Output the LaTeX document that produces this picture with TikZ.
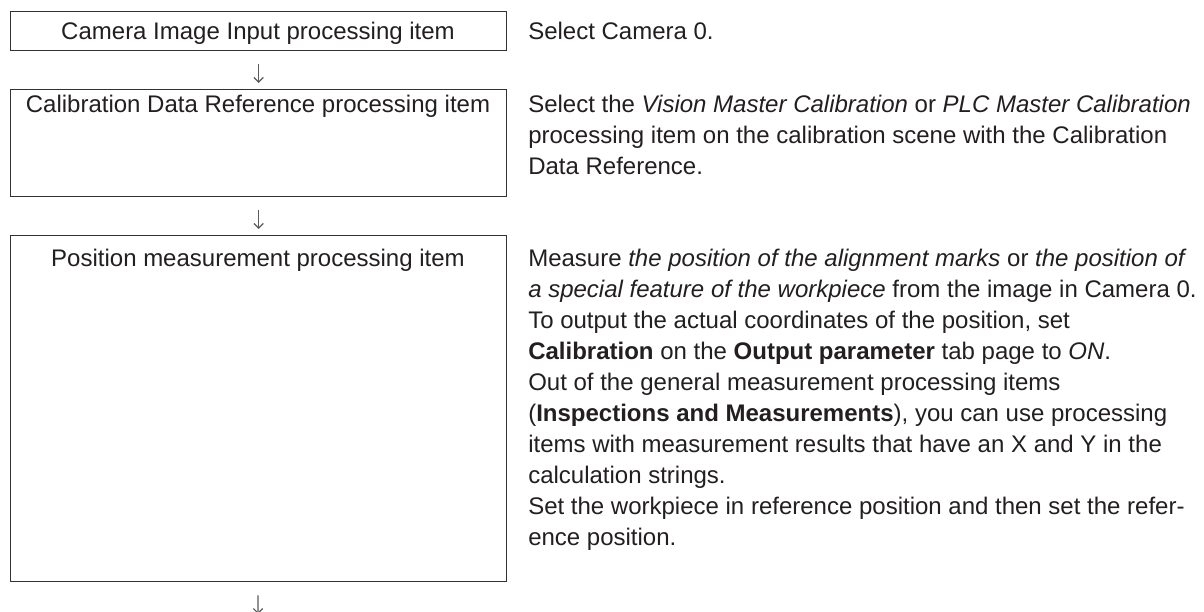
\documentclass[tikz,border=0pt]{standalone}
\usepackage{fontspec}
\setmainfont{Liberation Sans}
\usetikzlibrary{arrows.meta,positioning}
\usepackage{xcolor}
\definecolor{framegray}{RGB}{50,50,50}
\definecolor{textblack}{RGB}{35,31,32}
\definecolor{arrowgray}{RGB}{90,90,90}

\tikzset{
  procbox/.style={draw=framegray, line width=1pt, minimum width=372pt, inner sep=0pt, anchor=north west},
  boxlabel/.style={anchor=base, inner sep=0pt, text=textblack},
  notetext/.style={anchor=north west, inner sep=0pt, align=left, text=textblack},
  flowarrow/.style={-{Straight Barb[length=3.5pt,width=7pt]}, draw=arrowgray, line width=0.9pt, shorten <=9.75pt, shorten >=4.5pt}
}

\begin{document}
\begin{tikzpicture}[x=0.75pt, y=-0.75pt, font=\fontsize{18pt}{23.25pt}\selectfont]
\fill[white] (0,0) rectangle (1204,611);
\useasboundingbox (0,0) rectangle (1204,611);

\node[procbox, minimum height=29.25pt] (cam) at (10,11) {};
\node[boxlabel] (camlabel) at (258,39) {Camera Image Input processing item};
\node[notetext] (camnote) at (528,17.3) {\strut Select Camera 0.};

\node[procbox, minimum height=80.25pt] (calib) at (10,89) {};
\node[boxlabel] (caliblabel) at (258,112) {Calibration Data Reference processing item};
\node[notetext] (calibnote) at (528,90.3) {\strut Select the \textit{Vision Master Calibration} or \textit{PLC Master Calibration}\\
processing item on the calibration scene with the Calibration\\
Data Reference.};

\node[procbox, minimum height=259.5pt] (posmeas) at (10,235) {};
\node[boxlabel] (posmeaslabel) at (258,266) {Position measurement processing item};
\node[notetext] (posmeasnote) at (528,244.3) {\strut Measure \textit{the position of the alignment marks} or \textit{the position of}\\
\textit{a special feature of the workpiece} from the image in Camera 0.\\
To output the actual coordinates of the position, set\\
\textbf{Calibration} on the \textbf{Output parameter} tab page to \textit{ON}.\\
Out of the general measurement processing items\\
(\textbf{Inspections and Measurements}), you can use processing\\
items with measurement results that have an X and Y in the\\
calculation strings.\\
Set the workpiece in reference position and then set the refer-\\
ence position.};

% arrows between the steps
\coordinate (nextstep) at (258,620);
\draw[flowarrow] (cam) -- (calib);
\draw[flowarrow] (calib) -- (posmeas);
\draw[flowarrow] (posmeas) -- (nextstep);
\end{tikzpicture}
\end{document}
